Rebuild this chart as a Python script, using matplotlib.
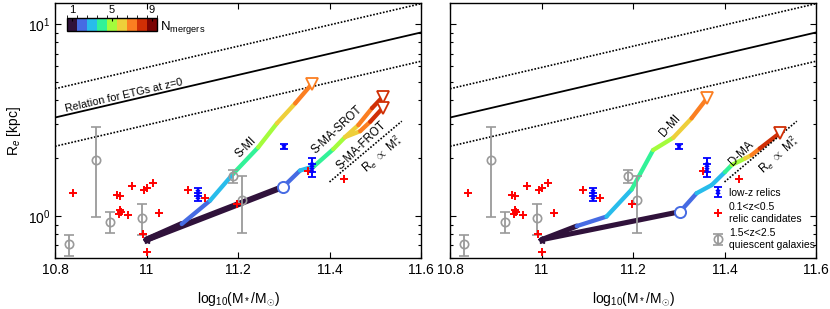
import numpy as np
import matplotlib
matplotlib.use('Agg')
import matplotlib.pyplot as plt
from matplotlib.collections import LineCollection
from matplotlib.colors import BoundaryNorm, ListedColormap
import matplotlib.ticker as mticker

plt.rcParams['font.family'] = ['Liberation Sans', 'DejaVu Sans']
plt.rcParams['mathtext.fontset'] = 'custom'
plt.rcParams['mathtext.rm'] = 'Liberation Sans'
plt.rcParams['mathtext.it'] = 'Liberation Sans:italic'
plt.rcParams['mathtext.bf'] = 'Liberation Sans:bold'

# ---------------- data ----------------
xticks = [10.8, 11.0, 11.2, 11.4, 11.6]
cbar_ticks = [1, 5, 9]

# z=0 ETG relation (log-linear), scatter +/- dex
etg_x = [10.8, 11.6]
etg_y = [3.25, 9.02]
etg_scatter_dex = 0.15

# R_e ∝ M^2 reference line
m2_x = [11.40, 11.558]
m2_y = [1.50, 3.11]

# start point of simulations
star_x = [11.0]
star_y = [0.75]

# Left panel tracks (x, y, N per segment)
smi_x = [11.0, 11.077, 11.139, 11.19, 11.244, 11.285, 11.325, 11.361]
smi_y = [0.75, 0.905, 1.20, 1.66, 2.27, 3.03, 3.85, 4.85]
smi_n = [1, 2, 3, 4, 5, 6, 7]

sma_x = [11.0, 11.299, 11.3355, 11.366, 11.408, 11.434]
sma_y = [0.75, 1.416, 1.72, 1.81, 2.22, 2.57]
sma_n = [1, 2, 3, 4, 5]

srot_x = [11.434, 11.463, 11.493, 11.517]
srot_y = [2.57, 2.97, 3.64, 4.18]
srot_n = [6, 7, 8]

frot_x = [11.434, 11.467, 11.489, 11.517]
frot_y = [2.57, 2.76, 3.09, 3.66]
frot_n = [6, 7, 8]

# Right panel tracks
dmi_x = [11.0, 11.077, 11.142, 11.197, 11.244, 11.288, 11.328, 11.362]
dmi_y = [0.75, 0.883, 0.99, 1.37, 2.20, 2.55, 3.22, 4.10]
dmi_n = [1, 2, 3, 4, 5, 6, 7]

dma_x = [11.0, 11.303, 11.339, 11.372, 11.401, 11.416, 11.445, 11.459, 11.477, 11.521]
dma_y = [0.75, 1.05, 1.31, 1.445, 1.69, 1.84, 1.99, 2.07, 2.24, 2.70]
dma_n = [1, 2, 3, 3, 4, 5, 6, 7, 8]

# low-z relics
rel_x = [11.113, 11.113, 11.301, 11.362, 11.362]
rel_y = [1.33, 1.25, 2.29, 1.84, 1.74]
rel_lo = [1.27, 1.20, 2.22, 1.70, 1.60]
rel_hi = [1.39, 1.31, 2.36, 1.99, 1.85]

# 0.1<z<0.5 relic candidates
cand_x = [10.839, 10.935, 10.941, 10.969, 10.995, 11.0, 11.015, 10.942, 10.944,
          10.940, 10.96, 11.027, 10.992, 11.0, 11.091, 11.128, 11.197, 11.354, 11.432]
cand_y = [1.32, 1.28, 1.27, 1.43, 1.37, 1.40, 1.49, 1.07, 1.045,
          1.02, 1.01, 1.03, 0.80, 0.65, 1.37, 1.24, 1.15, 1.71, 1.55]

# 1.5<z<2.5 quiescent galaxies
qg_x = [10.831, 10.89, 10.92, 10.991, 11.189, 11.209]
qg_y = [0.71, 1.95, 0.93, 0.97, 1.61, 1.21]
qg_lo = [0.62, 0.99, 0.81, 0.79, 1.49, 0.81]
qg_hi = [0.79, 2.91, 1.05, 1.15, 1.74, 1.61]

# ---------------- style ----------------
cmap = ListedColormap(plt.get_cmap('turbo')(np.linspace(0, 1, 9)))
norm = BoundaryNorm(np.arange(0.5, 10.5, 1), cmap.N)
GRAY = '#9a9a9a'

fig = plt.figure(figsize=(8.3, 3.09), dpi=100)
W, H = 830.0, 309.0
axL = fig.add_axes([55 / W, 1 - 258.3 / H, 366 / W, 255 / H])
axR = fig.add_axes([450 / W, 1 - 258.3 / H, 366 / W, 255 / H])


def draw_track(ax, xs, ys, ns, lw=3.1, lw1=3.7):
    segs = [[(xs[i], ys[i]), (xs[i + 1], ys[i + 1])] for i in range(len(ns))]
    cols = [cmap(norm(n)) for n in ns]
    lws = [lw1 if n == 1 else lw for n in ns]
    lc = LineCollection(segs, colors=cols, linewidths=lws, capstyle='round',
                        joinstyle='round', zorder=3)
    ax.add_collection(lc)


def end_triangle(ax, xs, ys, ns):
    ax.plot([xs[-1]], [ys[-1]], marker='v', ms=8.5, mfc='white',
            mec=cmap(norm(ns[-1])), mew=1.3, ls='none', zorder=5)


def common(ax, legend=False):
    ax.set_yscale('log')
    ex = np.linspace(etg_x[0], etg_x[1], 50)
    slope = np.log10(etg_y[1] / etg_y[0]) / (etg_x[1] - etg_x[0])
    ey = etg_y[0] * 10 ** (slope * (ex - etg_x[0]))
    ax.plot(ex, ey, color='k', lw=1.3, zorder=2)
    ax.plot(ex, ey * 10 ** etg_scatter_dex, color='k', lw=1.2, ls=(0, (1, 1)), zorder=2)
    ax.plot(ex, ey / 10 ** etg_scatter_dex, color='k', lw=1.2, ls=(0, (1, 1)), zorder=2)
    mx = np.linspace(m2_x[0], m2_x[1], 20)
    my = m2_y[0] * 10 ** (np.log10(m2_y[1] / m2_y[0]) / (m2_x[1] - m2_x[0]) * (mx - m2_x[0]))
    ax.plot(mx, my, color='k', lw=1.2, ls=(0, (1, 1)), zorder=4)

    qy = np.array(qg_y)
    eb_q = ax.errorbar(qg_x, qg_y, yerr=[qy - np.array(qg_lo), np.array(qg_hi) - qy],
                       fmt='o', ms=6, mfc='none', mec=GRAY, mew=1.2, color=GRAY,
                       ecolor=GRAY, elinewidth=1.3, capsize=3.5, capthick=1.3, zorder=4,
                       label='1.5<z<2.5\nquiescent galaxies')
    ry = np.array(rel_y)
    eb_r = ax.errorbar(rel_x, rel_y, yerr=[ry - np.array(rel_lo), np.array(rel_hi) - ry],
                       fmt='x', ms=3.5, mew=1.3, color='#0000ff', ecolor='#0000ff',
                       elinewidth=1.4, capsize=2.8, capthick=1.4, zorder=6,
                       label='low-z relics')
    cand, = ax.plot(cand_x, cand_y, ls='none', marker='+', ms=6, mew=1.4,
                    color='#ff0000', zorder=6, label='0.1<z<0.5\nrelic candidates')

    ax.set_xlim(10.8, 11.6)
    ax.set_ylim(0.6, 12.8)
    ax.set_xticks(xticks)
    ax.xaxis.set_major_formatter(mticker.FuncFormatter(lambda v, p: '%g' % v))
    ax.xaxis.set_minor_locator(mticker.NullLocator())
    ax.tick_params(which='both', direction='in', top=True, right=True, labelsize=10)
    ax.tick_params(which='major', length=4, width=0.8)
    ax.tick_params(which='minor', length=2.5, width=0.8)
    ax.set_xlabel(r'log$_{10}$(M$_*$/M$_{\odot}$)', fontsize=10, labelpad=9)
    for s in ax.spines.values():
        s.set_linewidth(1.0)
    if legend:
        ax.legend(handles=[eb_r, cand, eb_q], loc='lower left', bbox_to_anchor=(0.712, 0.025),
                  frameon=False, fontsize=7.5, handlelength=1.0, handletextpad=0.55,
                  labelspacing=0.42, borderpad=0.2, borderaxespad=0.0)


# ---- left panel ----
common(axL)
draw_track(axL, sma_x, sma_y, sma_n, lw1=4.4)
draw_track(axL, smi_x, smi_y, smi_n, lw1=4.4)
draw_track(axL, srot_x, srot_y, srot_n)
draw_track(axL, frot_x, frot_y, frot_n)
end_triangle(axL, smi_x, smi_y, smi_n)
end_triangle(axL, srot_x, srot_y, srot_n)
end_triangle(axL, frot_x, frot_y, frot_n)
axL.plot([sma_x[1]], [sma_y[1]], marker='o', ms=8, mfc='white', mec=cmap(norm(2)),
         mew=1.4, ls='none', zorder=5)
axL.plot(star_x, star_y, marker='*', ms=6, color=cmap(norm(1)), ls='none', zorder=5)
axL.set_ylabel(r'R$_e$ [kpc]', fontsize=10, labelpad=3)

kw = dict(fontsize=8.3, ha='center', va='center', rotation_mode='anchor', zorder=7)
axL.text(10.951, 4.25, 'Relation for ETGs at z=0', rotation=13,
         **dict(kw, fontsize=7.8))
axL.text(11.2175, 2.28, 'S-MI', rotation=45, **kw)
axL.text(11.416, 2.79, 'S-MA-SROT', rotation=43, **kw)
axL.text(11.469, 2.33, 'S-MA-FROT', rotation=44, **kw)
axL.text(11.5126, 2.13, r'R$_e$ $\propto$ M$_*^2$', rotation=41, **kw)

# colorbar
cax = axL.inset_axes([0.0336, 0.891, 0.244, 0.0498])
sm = plt.cm.ScalarMappable(cmap=cmap, norm=norm)
cb = fig.colorbar(sm, cax=cax, orientation='horizontal', ticks=cbar_ticks)
cax.xaxis.set_ticks_position('top')
cax.tick_params(labelsize=8, length=2, direction='in', pad=2.5)
cb.outline.set_linewidth(1.0)
axL.text(0.287, 0.905, r'N$_{\rm mergers}$', transform=axL.transAxes, fontsize=9.5,
         ha='left', va='center')

# ---- right panel ----
common(axR, legend=True)
draw_track(axR, dma_x, dma_y, dma_n)
draw_track(axR, dmi_x, dmi_y, dmi_n)
end_triangle(axR, dmi_x, dmi_y, dmi_n)
end_triangle(axR, dma_x, dma_y, dma_n)
axR.plot([dma_x[1]], [dma_y[1]], marker='o', ms=8, mfc='white', mec=cmap(norm(2)),
         mew=1.4, ls='none', zorder=5)
axR.plot(star_x, star_y, marker='*', ms=6, color=cmap(norm(1)), ls='none', zorder=5)
axR.tick_params(labelleft=False)
axR.text(11.281, 2.93, 'D-MI', rotation=48, **kw)
axR.text(11.436, 2.12, 'D-MA', rotation=45, **kw)
axR.text(11.516, 2.10, r'R$_e$ $\propto$ M$_*^2$', rotation=42, **kw)

fig.savefig('out.png', dpi=100)
